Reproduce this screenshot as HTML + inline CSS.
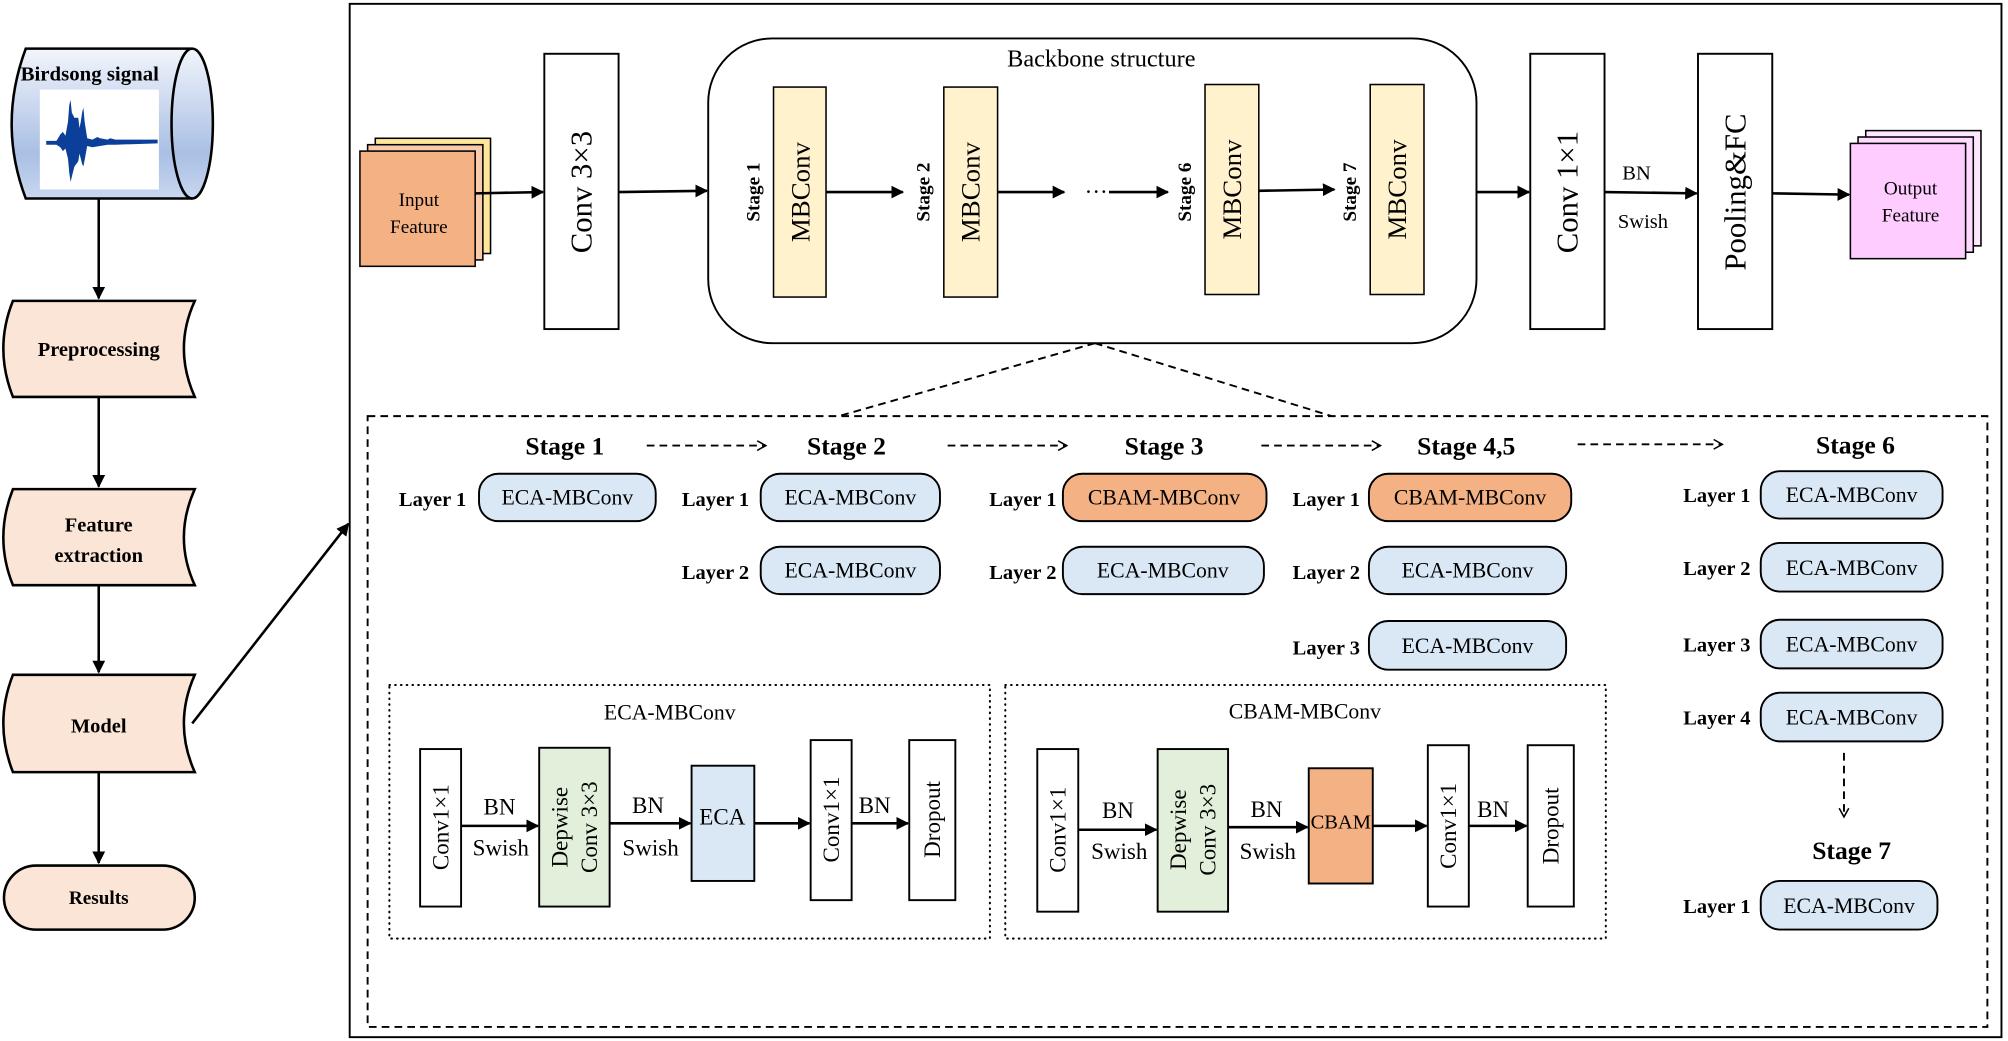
<!DOCTYPE html>
<html><head><meta charset="utf-8"><style>html,body{margin:0;padding:0;background:#fff}svg{display:block}</style></head>
<body>
<svg width="2008" height="1041" viewBox="0 0 1568 813" xmlns="http://www.w3.org/2000/svg" font-family="Liberation Serif, serif">
<defs>
<linearGradient id="cyl" x1="0" y1="0" x2="0" y2="1"><stop offset="0" stop-color="#f2f5fc"/><stop offset="0.7" stop-color="#a9bfe4"/><stop offset="1" stop-color="#c9d7f0"/></linearGradient>
<marker id="ah" viewBox="0 0 10 10" refX="9" refY="5" markerWidth="5" markerHeight="5" orient="auto"><path d="M0,0 L10,5 L0,10Z" fill="#000"/></marker>
<marker id="ao" viewBox="0 0 12 12" refX="10" refY="6" markerWidth="6" markerHeight="6" orient="auto"><path d="M1,1 L10,6 L1,11" fill="none" stroke="#000" stroke-width="1.6"/></marker>
</defs>
<g stroke="#000" stroke-width="2" fill="none">
<path d="M20,38 L150,38 A16,58 0 0 1 150,155 L20,155 Q-2,97 20,38 Z" fill="url(#cyl)"/>
<path d="M150,38 A16,58 0 0 0 150,155"/>
<path d="M10,235 L152,235 Q135,272 152,310 L10,310 Q-5,272 10,235Z" fill="#fbe5d6"/>
<path d="M10,382 L152,382 Q135,420 152,457 L10,457 Q-5,420 10,382Z" fill="#fbe5d6"/>
<path d="M10,527 L152,527 Q135,565 152,603 L10,603 Q-5,565 10,527Z" fill="#fbe5d6"/>
<rect x="3" y="676" width="149" height="50" rx="25" fill="#fbe5d6"/>
<line x1="77" y1="155" x2="77" y2="233" marker-end="url(#ah)"/>
<line x1="77" y1="310" x2="77" y2="380" marker-end="url(#ah)"/>
<line x1="77" y1="457" x2="77" y2="525" marker-end="url(#ah)"/>
<line x1="77" y1="603" x2="77" y2="674" marker-end="url(#ah)"/>
<line x1="150" y1="565" x2="272" y2="409" marker-end="url(#ah)"/>
<rect x="273" y="3" width="1290" height="807" stroke-width="1.5"/>
<rect x="293" y="108" width="90" height="90" fill="#ffe699" stroke-width="1.2"/>
<rect x="287" y="113" width="90" height="90" fill="#f8cbad" stroke-width="1.2"/>
<rect x="281" y="118" width="90" height="90" fill="#f4b183" stroke-width="1.2"/>
<rect x="425" y="42" width="58" height="215" fill="#fff" stroke-width="1.5"/>
<rect x="553" y="30" width="600" height="238" rx="50" stroke-width="1.5"/>
<rect x="604" y="68" width="41" height="164" fill="#fff2cc" stroke-width="1.2"/>
<rect x="737" y="68" width="42" height="164" fill="#fff2cc" stroke-width="1.2"/>
<rect x="941" y="66" width="42" height="164" fill="#fff2cc" stroke-width="1.2"/>
<rect x="1070" y="66" width="42" height="164" fill="#fff2cc" stroke-width="1.2"/>
<rect x="1195" y="42" width="58" height="215" fill="#fff" stroke-width="1.5"/>
<rect x="1326" y="42" width="58" height="215" fill="#fff" stroke-width="1.5"/>
<rect x="1457" y="102" width="90" height="90" fill="#ffe6ff" stroke-width="1.2"/>
<rect x="1451" y="107" width="90" height="90" fill="#ffd9ff" stroke-width="1.2"/>
<rect x="1445" y="112" width="90" height="90" fill="#ffccff" stroke-width="1.2"/>
<line x1="371" y1="151" x2="424" y2="150" marker-end="url(#ah)"/>
<line x1="483" y1="150" x2="552" y2="149" marker-end="url(#ah)"/>
<line x1="645" y1="150" x2="705" y2="150" marker-end="url(#ah)"/>
<line x1="779" y1="150" x2="831" y2="150" marker-end="url(#ah)"/>
<line x1="866" y1="150" x2="912" y2="150" marker-end="url(#ah)"/>
<line x1="983" y1="149" x2="1042" y2="148" marker-end="url(#ah)"/>
<line x1="1153" y1="150" x2="1194" y2="150" marker-end="url(#ah)"/>
<line x1="1253" y1="150" x2="1325" y2="151" marker-end="url(#ah)"/>
<line x1="1384" y1="151" x2="1444" y2="152" marker-end="url(#ah)"/>
<g stroke-width="1.5" stroke-dasharray="6,4">
<line x1="855" y1="268" x2="655" y2="325"/>
<line x1="855" y1="268" x2="1040" y2="325"/>
<rect x="287" y="325" width="1265" height="477"/>
<line x1="505" y1="348" x2="598" y2="348" marker-end="url(#ao)"/>
<line x1="740" y1="348" x2="833" y2="348" marker-end="url(#ao)"/>
<line x1="985" y1="348" x2="1078" y2="348" marker-end="url(#ao)"/>
<line x1="1232" y1="347" x2="1345" y2="347" marker-end="url(#ao)"/>
<line x1="1440" y1="588" x2="1440" y2="638" marker-end="url(#ao)"/>
</g>
<g stroke-width="1.6" stroke-dasharray="0.5,4" stroke-linecap="round">
<rect x="304" y="535" width="469" height="198"/>
<rect x="785" y="535" width="469" height="198"/>
</g>
<g stroke-width="1.5">
<rect x="374" y="370" width="138" height="37" rx="15" fill="#dae8f5"/>
<rect x="594" y="370" width="140" height="37" rx="15" fill="#dae8f5"/>
<rect x="594" y="427" width="140" height="37" rx="15" fill="#dae8f5"/>
<rect x="830" y="370" width="159" height="37" rx="15" fill="#f4b183"/>
<rect x="830" y="427" width="157" height="37" rx="15" fill="#dae8f5"/>
<rect x="1069" y="370" width="158" height="37" rx="15" fill="#f4b183"/>
<rect x="1069" y="427" width="154" height="37" rx="15" fill="#dae8f5"/>
<rect x="1069" y="485" width="154" height="38" rx="15" fill="#dae8f5"/>
<rect x="1375" y="368" width="142" height="37" rx="15" fill="#dae8f5"/>
<rect x="1375" y="424" width="142" height="38" rx="15" fill="#dae8f5"/>
<rect x="1375" y="484" width="142" height="38" rx="15" fill="#dae8f5"/>
<rect x="1375" y="541" width="142" height="38" rx="15" fill="#dae8f5"/>
<rect x="1375" y="688" width="138" height="38" rx="15" fill="#dae8f5"/>
</g>
<g stroke-width="1.5">
<rect x="328" y="585" width="32" height="123" fill="#fff"/>
<rect x="421" y="584" width="55" height="124" fill="#e2efda"/>
<rect x="540" y="598" width="49" height="90" fill="#dae8f5"/>
<rect x="633" y="578" width="32" height="125" fill="#fff"/>
<rect x="710" y="578" width="36" height="125" fill="#fff"/>
<rect x="810" y="585" width="32" height="127" fill="#fff"/>
<rect x="904" y="585" width="55" height="127" fill="#e2efda"/>
<rect x="1022" y="600" width="50" height="90" fill="#f4b183"/>
<rect x="1115" y="582" width="32" height="126" fill="#fff"/>
<rect x="1193" y="582" width="36" height="126" fill="#fff"/>
</g>
<line x1="360" y1="645" x2="420" y2="645" marker-end="url(#ah)"/>
<line x1="476" y1="643" x2="539" y2="643" marker-end="url(#ah)"/>
<line x1="589" y1="643" x2="632" y2="643" marker-end="url(#ah)"/>
<line x1="665" y1="643" x2="709" y2="643" marker-end="url(#ah)"/>
<line x1="842" y1="648" x2="903" y2="648" marker-end="url(#ah)"/>
<line x1="959" y1="646" x2="1021" y2="646" marker-end="url(#ah)"/>
<line x1="1072" y1="645" x2="1114" y2="645" marker-end="url(#ah)"/>
<line x1="1147" y1="645" x2="1192" y2="645" marker-end="url(#ah)"/>
</g>
<rect x="31" y="70" width="93" height="78" fill="#fff"/>
<path d="M36,110 L44,110 L47,105 L49,103 L51,106 L53,95 L54,82 L55,78 L56,88 L58,92 L61,92 L62,100 L63,95 L64,88 L65,84 L66,95 L68,108 L72,109 L76,107 L78,108 L84,109 L86,108 L90,109 L123,109 L123,112 L90,113 L84,113 L78,114 L72,115 L68,114 L66,125 L65,130 L64,128 L62,120 L61,126 L58,130 L56,138 L55,142 L54,135 L53,124 L51,116 L49,118 L47,115 L44,113 L36,113Z" fill="#0b3f9a"/>
<g fill="#000">
<text x="70" y="63" font-size="16" font-weight="600" text-anchor="middle" textLength="108" lengthAdjust="spacingAndGlyphs">Birdsong signal</text>
<g font-size="16" font-weight="bold" text-anchor="middle">
<text x="77" y="278">Preprocessing</text>
<text x="77" y="415">Feature</text>
<text x="77" y="439">extraction</text>
<text x="77" y="572">Model</text>
<text x="77" y="706" font-size="15">Results</text>
</g>
<g font-size="15" text-anchor="middle"><text x="327" y="161">Input</text><text x="327" y="182">Feature</text>
<text x="1492" y="152">Output</text><text x="1492" y="173">Feature</text></g>
<text x="860" y="52" font-size="19" text-anchor="middle">Backbone structure</text>
<g font-size="24" text-anchor="middle">
<text transform="translate(462,150) rotate(-90)">Conv 3×3</text>
<text transform="translate(1232,150) rotate(-90)">Conv 1×1</text>
<text transform="translate(1363,150) rotate(-90)">Pooling&amp;FC</text>
</g>
<g font-size="21" text-anchor="middle">
<text transform="translate(632,150) rotate(-90)">MBConv</text>
<text transform="translate(765,150) rotate(-90)">MBConv</text>
<text transform="translate(969,148) rotate(-90)">MBConv</text>
<text transform="translate(1098,148) rotate(-90)">MBConv</text>
</g>
<g font-size="15" font-weight="bold" text-anchor="middle">
<text transform="translate(593,150) rotate(-90)">Stage 1</text>
<text transform="translate(726,150) rotate(-90)">Stage 2</text>
<text transform="translate(930,150) rotate(-90)">Stage 6</text>
<text transform="translate(1059,150) rotate(-90)">Stage 7</text>
</g>
<text x="847" y="156" font-size="18">···</text>
<g font-size="16" text-anchor="middle"><text x="1278" y="140">BN</text><text x="1283" y="178">Swish</text></g>
<g font-size="20" font-weight="bold" text-anchor="middle">
<text x="441" y="355">Stage 1</text><text x="661" y="355">Stage 2</text><text x="909" y="355">Stage 3</text>
<text x="1145" y="355">Stage 4,5</text><text x="1449" y="354">Stage 6</text><text x="1446" y="671">Stage 7</text>
</g>
<g font-size="16" font-weight="bold" text-anchor="end">
<text x="364" y="395">Layer 1</text><text x="585" y="395">Layer 1</text><text x="585" y="452">Layer 2</text>
<text x="825" y="395">Layer 1</text><text x="825" y="452">Layer 2</text>
<text x="1062" y="395">Layer 1</text><text x="1062" y="452">Layer 2</text><text x="1062" y="511">Layer 3</text>
<text x="1367" y="392">Layer 1</text><text x="1367" y="449">Layer 2</text><text x="1367" y="509">Layer 3</text><text x="1367" y="566">Layer 4</text>
<text x="1367" y="713">Layer 1</text>
</g>
<g font-size="17" text-anchor="middle">
<text x="443" y="394">ECA-MBConv</text><text x="664" y="394">ECA-MBConv</text><text x="664" y="451">ECA-MBConv</text>
<text x="909" y="394">CBAM-MBConv</text><text x="908" y="451">ECA-MBConv</text>
<text x="1148" y="394">CBAM-MBConv</text><text x="1146" y="451">ECA-MBConv</text><text x="1146" y="510">ECA-MBConv</text>
<text x="1446" y="392">ECA-MBConv</text><text x="1446" y="449">ECA-MBConv</text><text x="1446" y="509">ECA-MBConv</text><text x="1446" y="566">ECA-MBConv</text>
<text x="1444" y="713">ECA-MBConv</text>
<text x="523" y="562">ECA-MBConv</text><text x="1019" y="561">CBAM-MBConv</text>
</g>
<g font-size="18" text-anchor="middle">
<text transform="translate(350,646) rotate(-90)">Conv1×1</text>
<text transform="translate(443,646) rotate(-90)">Depwise</text>
<text transform="translate(466,646) rotate(-90)">Conv 3×3</text>
<text transform="translate(655,640) rotate(-90)">Conv1×1</text>
<text transform="translate(734,640) rotate(-90)">Dropout</text>
<text transform="translate(832,648) rotate(-90)">Conv1×1</text>
<text transform="translate(926,648) rotate(-90)">Depwise</text>
<text transform="translate(949,648) rotate(-90)">Conv 3×3</text>
<text transform="translate(1137,645) rotate(-90)">Conv1×1</text>
<text transform="translate(1217,645) rotate(-90)">Dropout</text>
<text x="564" y="644">ECA</text><text x="1047" y="647" font-size="16">CBAM</text>
<text x="390" y="636">BN</text><text x="391" y="668">Swish</text>
<text x="506" y="635">BN</text><text x="508" y="668">Swish</text>
<text x="683" y="635">BN</text>
<text x="873" y="639">BN</text><text x="874" y="671">Swish</text>
<text x="989" y="638">BN</text><text x="990" y="671">Swish</text>
<text x="1166" y="638">BN</text>
</g>
</g>
</svg>
</body></html>
